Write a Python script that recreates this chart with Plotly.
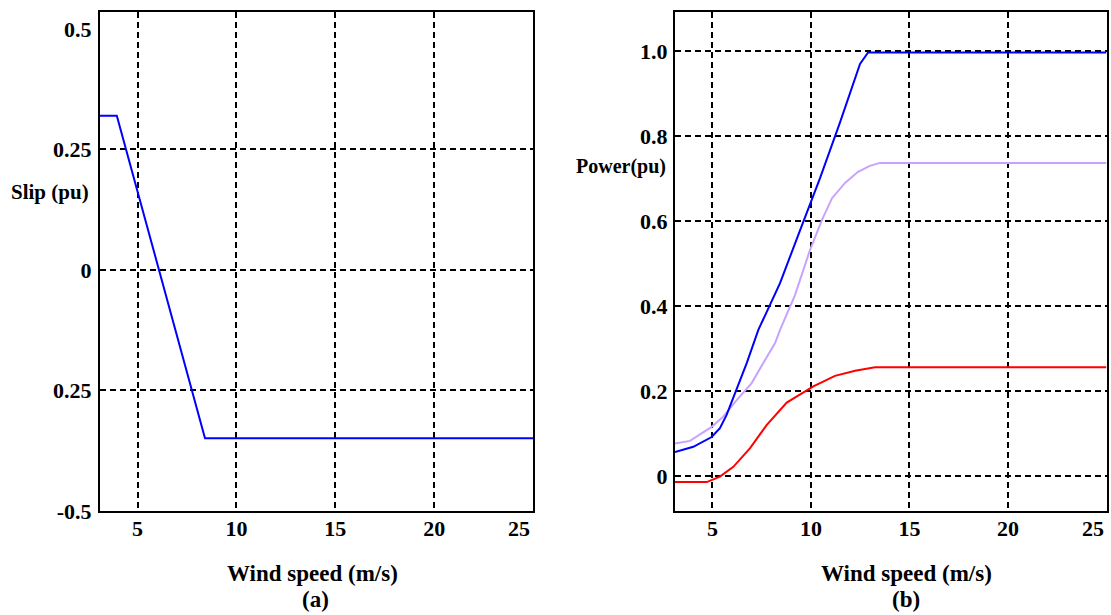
import plotly.graph_objects as go

# ---- data ----
slip_wind = [3.1, 3.95, 8.41, 25.0]
slip_pu = [0.32, 0.32, -0.349, -0.349]

blue_wind = [3.1, 4.03, 4.96, 5.38, 5.72, 6.15, 6.74, 7.33, 8.43, 9.45, 10.46, 11.48, 12.08, 12.49, 12.9, 25.0]
blue_pu = [0.057, 0.069, 0.092, 0.113, 0.144, 0.195, 0.266, 0.344, 0.454, 0.579, 0.701, 0.833, 0.913, 0.970, 0.997, 0.997]

pink_wind = [3.1, 3.86, 4.96, 5.55, 6.23, 6.99, 7.58, 8.18, 8.43, 9.19, 9.95, 10.56, 11.07, 11.73, 12.39, 12.99, 13.5, 25.0]
pink_pu = [0.077, 0.083, 0.116, 0.14, 0.179, 0.219, 0.266, 0.313, 0.344, 0.426, 0.532, 0.603, 0.654, 0.69, 0.716, 0.73, 0.737, 0.737]

red_wind = [3.1, 4.71, 5.38, 6.06, 6.91, 7.75, 8.77, 10.12, 11.22, 12.24, 13.25, 25.0]
red_pu = [-0.014, -0.014, -0.001, 0.022, 0.066, 0.12, 0.173, 0.211, 0.236, 0.248, 0.256, 0.256]

x_ticks = [5, 10, 15, 20]
x_ticktext = ["5", "10", "15", "20"]
x_end_tick = 25
x_end_text = "25"
slip_ticks = [-0.5, -0.25, 0, 0.25, 0.5]
slip_ticktext = ["-0.5", "0.25", "0", "0.25", "0.5"]
slip_grid = [-0.25, 0, 0.25]
power_ticks = [0, 0.2, 0.4, 0.6, 0.8, 1.0]
power_ticktext = ["0", "0.2", "0.4", "0.6", "0.8", "1.0"]

FONT = "Liberation Serif, Times New Roman, serif"
tickfont = dict(family=FONT, size=22, color="black", weight="bold")
GRID = dict(showgrid=True, gridcolor="black", gridwidth=1.6, griddash="6px,4px")

W, H = 1111, 615


def px(xp):
    return xp / W


def py(yp):
    return (H - yp) / H


fig = go.Figure()
fig.add_trace(go.Scatter(x=slip_wind, y=slip_pu, mode="lines", xaxis="x", yaxis="y",
                         line=dict(color="#0000ff", width=2), showlegend=False))
# carrier trace so the grid-only overlay axis is drawn
fig.add_trace(go.Scatter(x=slip_wind, y=slip_pu, mode="lines", xaxis="x", yaxis="y3",
                         line=dict(color="rgba(0,0,0,0)", width=0), showlegend=False, hoverinfo="skip"))
fig.add_trace(go.Scatter(x=pink_wind, y=pink_pu, mode="lines", xaxis="x2", yaxis="y2",
                         line=dict(color="#c8a2ff", width=2), showlegend=False))
fig.add_trace(go.Scatter(x=red_wind, y=red_pu, mode="lines", xaxis="x2", yaxis="y2",
                         line=dict(color="#ff0000", width=2), showlegend=False))
fig.add_trace(go.Scatter(x=blue_wind, y=blue_pu, mode="lines", xaxis="x2", yaxis="y2",
                         line=dict(color="#0000ff", width=2), showlegend=False))

left_dom = [px(100), px(533)]
right_dom = [px(675), px(1106.5)]
y_dom = [py(511), py(12)]
slip_range = [-0.5, 0.535]
frame = dict(showline=True, linecolor="black", linewidth=2, mirror=True, zeroline=False, automargin=False)

fig.update_layout(
    template="none",
    width=W, height=H, autosize=False,
    margin=dict(l=0, r=0, t=0, b=0, pad=0),
    paper_bgcolor="white", plot_bgcolor="white",
    font=dict(family=FONT, size=21, color="black", weight="bold"),
    xaxis=dict(domain=left_dom, range=[3.1, 25], anchor="y", tickvals=x_ticks, ticktext=x_ticktext,
               tickfont=tickfont, ticks="", ticklabelstandoff=-3, **GRID, **frame),
    yaxis=dict(domain=y_dom, range=slip_range, anchor="x", tickvals=slip_ticks, ticktext=slip_ticktext,
               tickfont=tickfont, ticks="", ticklabelstandoff=2, showgrid=False, **frame),
    yaxis3=dict(domain=y_dom, range=slip_range, anchor="x", overlaying="y", tickvals=slip_grid,
                showticklabels=False, ticks="", **GRID, zeroline=False, showline=False, automargin=False),
    xaxis2=dict(domain=right_dom, range=[3.1, 25], anchor="y2", tickvals=x_ticks, ticktext=x_ticktext,
                tickfont=tickfont, ticks="", ticklabelstandoff=-3, **GRID, **frame),
    yaxis2=dict(domain=y_dom, range=[-0.082, 1.092], anchor="x2", tickvals=power_ticks, ticktext=power_ticktext,
                tickfont=tickfont, ticks="", ticklabelstandoff=1, **GRID, **frame),
)

ann_font = dict(family=FONT, size=21, color="black", weight="bold")
pw_font = dict(family=FONT, size=20, color="black", weight="bold")
title_font = dict(family=FONT, size=23, color="black", weight="bold")
annotations = [
    dict(text="Slip (pu)", x=px(50), y=py(192), xanchor="center", yanchor="middle", font=ann_font),
    dict(text="Power(pu)", x=px(667), y=py(166), xanchor="right", yanchor="middle", font=pw_font),
    dict(text="Wind speed (m/s)", x=px(312), y=py(573), xanchor="center", yanchor="middle", font=title_font),
    dict(text="(a)", x=px(315), y=py(599), xanchor="center", yanchor="middle", font=title_font),
    dict(text="Wind speed (m/s)", x=px(906), y=py(573), xanchor="center", yanchor="middle", font=title_font),
    dict(text="(b)", x=px(906), y=py(599), xanchor="center", yanchor="middle", font=title_font),
]
for a in annotations:
    fig.add_annotation(xref="paper", yref="paper", showarrow=False, borderpad=0, **a)

# "25" label sits just inside the right edge of each panel
for xr in ["x", "x2"]:
    fig.add_annotation(xref=xr, yref="paper", x=x_end_tick, y=py(528), text=x_end_text,
                       xanchor="right", yanchor="middle", showarrow=False, borderpad=0,
                       xshift=-2, font=tickfont)

fig.write_html("out.html", config={"displayModeBar": False},
               post_script="document.body.style.margin='0';document.body.style.overflow='hidden';")
